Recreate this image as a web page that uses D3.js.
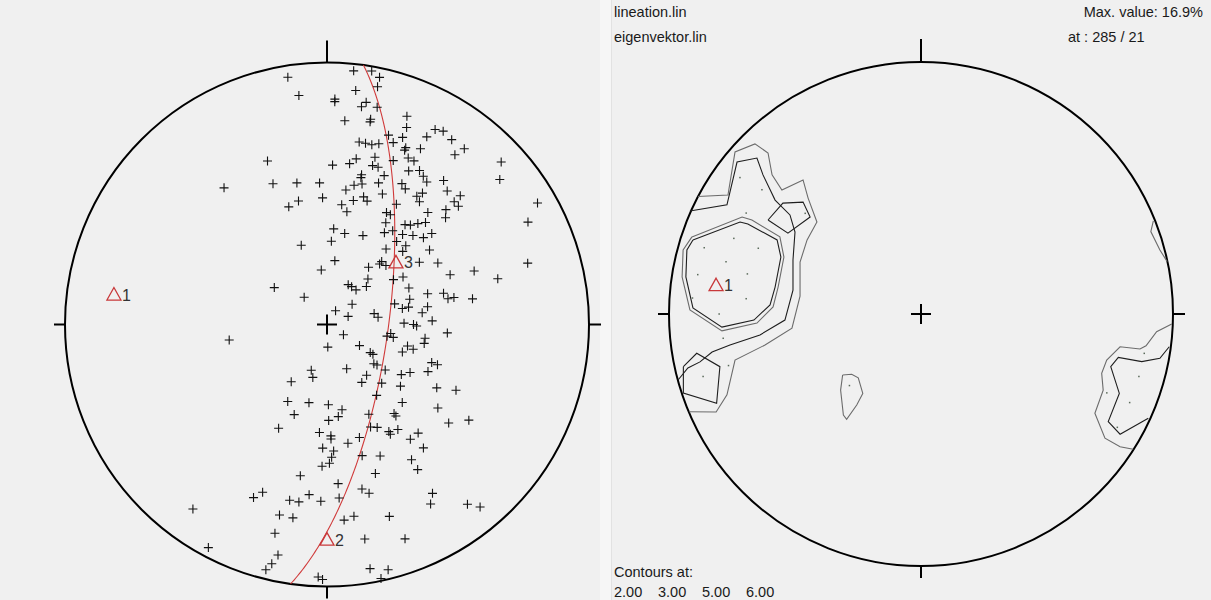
<!DOCTYPE html>
<html>
<head>
<meta charset="utf-8">
<script src="https://cdn.jsdelivr.net/npm/d3@7"></script>
<style>
  html, body { margin: 0; padding: 0; background: #f0f0f0; }
  svg { display: block; }
  text { font-family: "Liberation Sans", Arial, sans-serif; fill: #1a1a1a; }
</style>
</head>
<body>
<svg id="chart" width="1211" height="600"></svg>
<script>
// ---- lineation measurements: trend / plunge in degrees ----
const lineTrend = [
  351, 6, 10, 12, 12, 7, 353, 2, 2, 10, 9, 13, 5, 12, 12, 21, 22, 18, 22, 28,
  29, 31, 34, 37, 38, 10, 12, 14, 16, 20, 24, 24, 28, 22, 16, 10, 8, 16, 18, 2,
  340, 26, 28, 28, 31, 33, 35, 39, 42, 13, 13, 21, 20, 28, 30, 11, 14, 8, 323, 339,
  348, 357, 16, 18, 23, 12, 7, 10, 358, 347, 342, 35, 36, 37, 30, 28, 30, 42, 46, 48,
  46, 48, 46, 47, 50, 60, 63, 38, 40, 42, 44, 40, 44, 48, 49, 30, 35, 32, 4, 11,
  22, 342, 3, 40, 45, 46, 38, 54, 7, 41, 41, 45, 56, 61, 73, 36, 354, 70, 68, 75,
  42, 56, 58, 33, 40, 28, 46, 305, 320, 66, 73, 73, 75, 78, 78, 80, 51, 32, 69, 77,
  82, 73, 78, 78, 83, 80, 89, 90, 91, 88, 261, 122, 101, 98, 101, 94, 178, 123, 123, 123,
  110, 105, 106, 98, 101, 199, 195, 156, 130, 129, 128, 142, 149, 137, 124, 120, 130, 110, 110, 115,
  212, 120, 117, 207, 193, 179, 170, 145, 136, 200, 205, 179, 173, 155, 143, 143, 127, 129, 124, 184,
  178, 178, 157, 154, 150, 150, 146, 140, 144, 142, 164, 170, 182, 177, 178, 182, 179, 165, 158, 148,
  148, 162, 190, 176, 168, 166, 148, 203, 201, 192, 189, 186, 182, 176, 150, 142, 140, 216, 194, 190,
  175, 172, 162, 194, 170, 160, 208, 192, 193, 194, 170, 166, 168, 182, 181
];
const linePlunge = [
  5, 3, 2, 4, 8, 11, 13, 15, 16, 15, 17, 16, 23, 21, 22, 16, 20, 25, 24, 20,
  16, 15, 16, 20, 16, 30, 30, 30, 29, 27, 27, 28, 25, 33, 34, 36, 38, 37, 37, 39,
  34, 30, 30, 34, 32, 33, 34, 30, 32, 41, 42, 39, 42, 39, 40, 45, 44, 47, 35, 42,
  44, 45, 48, 49, 45, 50, 52, 54, 50, 50, 51, 40, 38, 41, 46, 50, 50, 42, 37, 39,
  33, 33, 30, 10, 15, 8, 15, 50, 49, 47, 45, 53, 51, 49, 46, 53, 54, 56, 60, 61,
  60, 64, 64, 56, 55, 57, 60, 50, 70, 64, 65, 64, 55, 50, 21, 68, 73, 40, 48, 33,
  71, 65, 62, 76, 76, 76, 73, 70, 79, 62, 63, 57, 52, 51, 49, 43, 80, 85, 83, 75,
  74, 68, 66, 64, 60, 58, 66, 63, 62, 57, 59, 84, 71, 70, 69, 52, 83, 78, 74, 73,
  65, 64, 62, 59, 59, 75, 73, 75, 71, 70, 67, 70, 69, 65, 62, 60, 60, 55, 53, 55,
  69, 50, 44, 63, 65, 65, 63, 63, 56, 60, 54, 60, 61, 59, 55, 54, 46, 40, 35, 56,
  55, 54, 55, 54, 51, 50, 50, 45, 45, 40, 53, 52, 51, 50, 48, 45, 46, 47, 45, 39,
  35, 40, 41, 39, 36, 34, 25, 29, 32, 32, 32, 35, 33, 34, 22, 14, 10, 14, 26, 26,
  26, 27, 24, 19, 18, 14, 4, 11, 7, 4, 6, 4, 1, 4, 3
];

// ---- eigenvectors of the orientation tensor ----
const eigenLabel  = ["1", "2", "3"];
const eigenTrend  = [278, 180, 48];
const eigenPlunge = [19, 19, 61];

// ---- density grid nodes shown on the contour net (trend / plunge) ----
const nodeTrend  = [292, 287, 292, 285, 283, 280, 274, 275, 270, 307, 308, 300, 311, 263, 255, 254, 100, 106, 113, 113, 120, 225];
const nodePlunge = [21, 11, 31, 21, 30, 11, 10, 31, 21, 11, 21, 21, 39, 22, 22, 11, 11, 11, 21, 11, 11, 57];

// ---- contour lines, in net units (x east, y north, primitive radius 1) ----
const contour2West = [
  [-0.885, 0.466], [-0.766, 0.472], [-0.738, 0.643], [-0.659, 0.675], [-0.607, 0.639],
  [-0.591, 0.552], [-0.552, 0.492], [-0.468, 0.532], [-0.448, 0.460], [-0.413, 0.365],
  [-0.452, 0.294], [-0.480, 0.206], [-0.480, 0.071], [-0.512, -0.056], [-0.619, -0.123],
  [-0.738, -0.183], [-0.770, -0.321], [-0.813, -0.389], [-0.921, -0.388]
];
const contour3West = [
  [-0.917, 0.409], [-0.770, 0.433], [-0.730, 0.603], [-0.651, 0.619], [-0.627, 0.552],
  [-0.579, 0.452], [-0.520, 0.393], [-0.500, 0.325], [-0.508, 0.214], [-0.508, 0.095],
  [-0.540, -0.024], [-0.639, -0.083], [-0.758, -0.123], [-0.829, -0.151], [-0.877, -0.190],
  [-0.925, -0.214], [-0.964, -0.262]
];
const contour3Notch = [[-0.607, 0.373], [-0.548, 0.440], [-0.468, 0.444], [-0.440, 0.385], [-0.528, 0.321], [-0.607, 0.373]];
const contour3SouthWest = [[-0.943, -0.209], [-0.890, -0.156], [-0.798, -0.209], [-0.811, -0.354], [-0.943, -0.314], [-0.943, -0.209]];
const contour5West = [
  [-0.909, 0.306], [-0.710, 0.385], [-0.671, 0.373], [-0.560, 0.306], [-0.544, 0.226],
  [-0.567, 0.107], [-0.587, 0.028], [-0.651, -0.036], [-0.790, -0.067], [-0.917, 0.016],
  [-0.948, 0.147], [-0.944, 0.254], [-0.909, 0.306]
];
const contour6West = [
  [-0.905, 0.294], [-0.718, 0.365], [-0.687, 0.357], [-0.571, 0.294], [-0.556, 0.226],
  [-0.579, 0.107], [-0.599, 0.036], [-0.663, -0.024], [-0.790, -0.052], [-0.905, 0.024],
  [-0.933, 0.147], [-0.929, 0.254], [-0.905, 0.294]
];
const contour2Centre = [
  [-0.311, -0.242], [-0.275, -0.239], [-0.249, -0.253], [-0.231, -0.315], [-0.255, -0.361],
  [-0.295, -0.418], [-0.308, -0.401], [-0.319, -0.302], [-0.311, -0.242]
];
const contour2NorthEast = [[0.922, 0.370], [0.912, 0.327], [0.948, 0.254], [0.977, 0.208]];
const contour2East = [
  [0.995, -0.040], [0.935, -0.070], [0.893, -0.126], [0.869, -0.139], [0.790, -0.130],
  [0.737, -0.183], [0.717, -0.235], [0.723, -0.302], [0.690, -0.394], [0.730, -0.493],
  [0.790, -0.527], [0.842, -0.537]
];
const contour3East = [
  [0.985, -0.130], [0.948, -0.176], [0.876, -0.189], [0.783, -0.172], [0.753, -0.209],
  [0.787, -0.315], [0.743, -0.427], [0.790, -0.477], [0.902, -0.414]
];

const contourLevels = [2, 3, 5, 6];
const maxValue = 16.9, maxTrend = 285, maxPlunge = 21;
const fileNames = ["lineation.lin", "eigenvektor.lin"];

// table of contour lines built from the arrays above
const contourTable = [
  { level: 2, pts: contour2West }, { level: 2, pts: contour2Centre },
  { level: 2, pts: contour2NorthEast }, { level: 2, pts: contour2East },
  { level: 3, pts: contour3West }, { level: 3, pts: contour3Notch },
  { level: 3, pts: contour3SouthWest }, { level: 3, pts: contour3East },
  { level: 5, pts: contour5West }, { level: 6, pts: contour6West }
];

const svg = d3.select("#chart");
const rad = Math.PI / 180;

// light gutter between the two panels
svg.append("rect").attr("x", 600).attr("y", 0).attr("width", 11).attr("height", 600).attr("fill", "#f6f6f6");
svg.append("line").attr("x1", 611.5).attr("x2", 611.5).attr("y1", 0).attr("y2", 600)
  .attr("stroke", "#e2e2e2").attr("stroke-width", 1);

// Lambert (Schmidt) equal-area net, lower hemisphere
function makeNet(cx, cy, R) {
  const x = d3.scaleLinear().domain([-1, 1]).range([cx - R, cx + R]);
  const y = d3.scaleLinear().domain([-1, 1]).range([cy + R, cy - R]);
  const unit = (trend, plunge) => {
    const r = Math.SQRT2 * Math.sin((90 - plunge) * rad / 2);
    return [r * Math.sin(trend * rad), r * Math.cos(trend * rad)];
  };
  const proj = (trend, plunge) => { const u = unit(trend, plunge); return [x(u[0]), y(u[1])]; };
  return { cx, cy, R, x, y, proj };
}

function drawFrame(g, net, topTick) {
  g.append("circle")
    .attr("cx", net.cx).attr("cy", net.cy).attr("r", net.R)
    .attr("fill", "none").attr("stroke", "#000").attr("stroke-width", 2);
  const ticks = [
    [net.x(0), net.y(1), net.x(0), net.y(1) - topTick],
    [net.x(0), net.y(-1), net.x(0), net.y(-1) + 12],
    [net.x(-1), net.y(0), net.x(-1) - 11, net.y(0)],
    [net.x(1), net.y(0), net.x(1) + 12, net.y(0)]
  ];
  g.selectAll("line.tick").data(ticks).join("line").attr("class", "tick")
    .attr("x1", d => d[0]).attr("y1", d => d[1]).attr("x2", d => d[2]).attr("y2", d => d[3])
    .attr("stroke", "#000").attr("stroke-width", 2);
  // centre cross
  const c = 10;
  g.append("path")
    .attr("d", `M${net.cx - c},${net.cy}H${net.cx + c}M${net.cx},${net.cy - c}V${net.cy + c}`)
    .attr("stroke", "#000").attr("stroke-width", 2).attr("fill", "none");
}

function drawEigen(g, net, which) {
  const pts = which.map(i => ({ p: net.proj(eigenTrend[i], eigenPlunge[i]), label: eigenLabel[i] }));
  g.selectAll("path.eig").data(pts).join("path").attr("class", "eig")
    .attr("d", d => `M${d.p[0]},${d.p[1] - 7}L${d.p[0] + 7},${d.p[1] + 5.5}L${d.p[0] - 7},${d.p[1] + 5.5}Z`)
    .attr("fill", "none").attr("stroke", "#c8383a").attr("stroke-width", 1.3);
  g.selectAll("text.eig").data(pts).join("text").attr("class", "eig")
    .attr("x", d => d.p[0] + 8).attr("y", d => d.p[1] + 6)
    .attr("font-size", 16).style("fill", "#333").text(d => d.label);
}

// ---------- left net: lineations, eigenvectors, girdle ----------
const left = makeNet(327, 324.5, 262);
const gL = svg.append("g");
drawFrame(gL, left, 22);

// great circle normal to eigenvector 1
const pt = eigenTrend[0] * rad, pp = eigenPlunge[0] * rad;
const a = [Math.cos(pt), -Math.sin(pt), 0];
const b = [-Math.sin(pp) * Math.sin(pt), -Math.sin(pp) * Math.cos(pt), Math.cos(pp)];
const girdle = d3.range(0, 180.5, 1).map(phi => {
  const f = phi * rad;
  const v = [0, 1, 2].map(k => Math.cos(f) * a[k] + Math.sin(f) * b[k]);
  const trend = (Math.atan2(v[0], v[1]) / rad + 360) % 360;
  const plunge = Math.asin(Math.min(1, Math.max(-1, v[2]))) / rad;
  return left.proj(trend, plunge);
});
gL.append("path").attr("d", d3.line()(girdle))
  .attr("fill", "none").attr("stroke", "#d03a3a").attr("stroke-width", 1.1);

// lineation crosses
const crosses = lineTrend.map((t, i) => left.proj(t, linePlunge[i]));
gL.selectAll("path.lin").data(crosses).join("path").attr("class", "lin")
  .attr("d", d => `M${d[0] - 4.5},${d[1]}H${d[0] + 4.5}M${d[0]},${d[1] - 4.5}V${d[1] + 4.5}`)
  .attr("stroke", "#111").attr("stroke-width", 1.1).attr("fill", "none");

drawEigen(gL.append("g"), left, [0, 1, 2]);

// ---------- right net: density contours ----------
const right = makeNet(921, 314, 252);
const gR = svg.append("g");
drawFrame(gR, right, 23);

const line = d3.line().x(d => right.x(d[0])).y(d => right.y(d[1]));
const levelColour = d3.scaleOrdinal().domain(contourLevels).range(["#6b6b6b", "#1e1e1e", "#6b6b6b", "#1e1e1e"]);
gR.selectAll("path.contour").data(contourTable).join("path").attr("class", "contour")
  .attr("d", d => line(d.pts))
  .attr("fill", "none").attr("stroke", d => levelColour(d.level)).attr("stroke-width", 1.1);

const nodes = nodeTrend.map((t, i) => right.proj(t, nodePlunge[i]));
gR.selectAll("rect.node").data(nodes).join("rect").attr("class", "node")
  .attr("x", d => d[0] - 0.75).attr("y", d => d[1] - 0.75).attr("width", 1.5).attr("height", 1.5)
  .attr("fill", "#5a6a5a");

// only the first eigenvector is shown on the contour net
drawEigen(gR.append("g"), right, [0]);

// ---------- header / footer texts ----------
const fs = 14.5;
svg.append("text").attr("x", 614).attr("y", 17).attr("font-size", fs).text(fileNames[0]);
svg.append("text").attr("x", 614).attr("y", 42).attr("font-size", fs).text(fileNames[1]);
svg.append("text").attr("x", 1203).attr("y", 17).attr("font-size", fs).attr("text-anchor", "end")
  .text(`Max. value: ${maxValue.toFixed(1)}%`);
svg.append("text").attr("x", 1068).attr("y", 42).attr("font-size", fs)
  .text(`at : ${maxTrend} / ${maxPlunge}`);
svg.append("text").attr("x", 614).attr("y", 577).attr("font-size", fs).text("Contours at:");
const levelText = svg.append("text").attr("y", 597).attr("font-size", fs);
contourLevels.forEach((lv, i) => {
  levelText.append("tspan").attr("x", 614 + i * 44).text(lv.toFixed(2));
});
</script>
</body>
</html>
